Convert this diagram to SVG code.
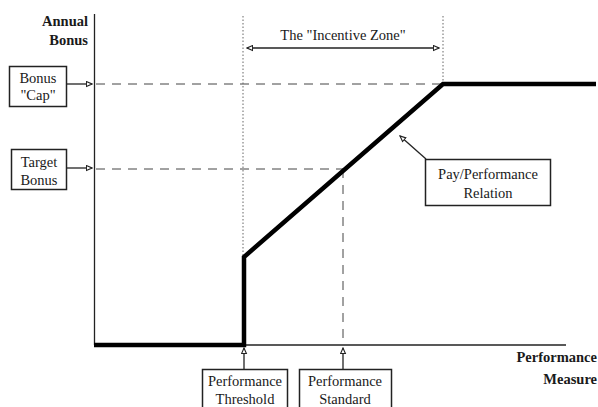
<svg xmlns="http://www.w3.org/2000/svg" width="598" height="407" viewBox="0 0 598 407" font-family="'Liberation Serif', 'Times New Roman', 'DejaVu Serif', serif">
<style>
text{font-family:'Liberation Serif','Times New Roman','DejaVu Serif',serif;font-size:14.5px;fill:#1a1a1a}
.b{font-weight:bold}
.box{fill:#fff;stroke:#222;stroke-width:1.5}
.ln{stroke:#222;stroke-width:1.3;fill:none}
.dash{stroke:#444;stroke-width:1;stroke-dasharray:9,7;fill:none}
.dot{stroke:#666;stroke-width:1;stroke-dasharray:1.5,2;fill:none}
.thick{stroke:#000;stroke-width:4.5;fill:none;stroke-linejoin:miter}
</style>
<defs>
<marker id="ah" viewBox="0 0 10 10" refX="9" refY="5" markerWidth="7" markerHeight="7" orient="auto-start-reverse" markerUnits="userSpaceOnUse">
<path d="M1,1.5 L9,5 L1,8.5 Z" fill="#fff" stroke="#222" stroke-width="1.6"/>
</marker>
</defs>
<g id="axes">
<line class="ln" x1="94.5" y1="14" x2="94.5" y2="345" stroke-width="1.8"/>
<line class="ln" x1="94" y1="345" x2="566" y2="345"/>
<text class="b" x="88" y="26" text-anchor="end">Annual</text>
<text class="b" x="88" y="45" text-anchor="end">Bonus</text>
<text class="b" x="597" y="362" text-anchor="end">Performance</text>
<text class="b" x="597" y="384" text-anchor="end">Measure</text>
</g>
<g id="guides">
<line class="dash" x1="96" y1="84" x2="443" y2="84"/>
<line class="dash" x1="96" y1="169" x2="343" y2="169"/>
<line class="dash" x1="343" y1="169" x2="343" y2="345"/>
<line class="dot" x1="243" y1="16" x2="243" y2="258"/>
<line class="dot" x1="443" y1="16" x2="443" y2="84"/>
</g>
<g id="curve">
<polyline class="thick" points="94,345 244,345 244,257 443,84 596,84"/>
</g>
<g id="incentive-zone">
<line class="ln" x1="247" y1="48" x2="439" y2="48" marker-start="url(#ah)" marker-end="url(#ah)"/>
<text x="343" y="40" text-anchor="middle">The "Incentive Zone"</text>
</g>
<g id="connectors">
<line class="ln" x1="67" y1="84" x2="92" y2="84" marker-end="url(#ah)" stroke-width="1.6"/>
<line class="ln" x1="67" y1="168" x2="92" y2="168" marker-end="url(#ah)" stroke-width="1.6"/>
<line class="ln" x1="244" y1="369" x2="244" y2="348" marker-end="url(#ah)" stroke-width="1.6"/>
<line class="ln" x1="343" y1="369" x2="343" y2="348" marker-end="url(#ah)" stroke-width="1.6"/>
<line class="ln" x1="426" y1="159" x2="400" y2="136" marker-end="url(#ah)" stroke-width="1.6"/>
</g>
<g id="bonus-cap">
<rect class="box" x="9.5" y="66.5" width="57" height="40"/>
<text x="38" y="83" text-anchor="middle">Bonus</text>
<text x="38" y="100" text-anchor="middle">"Cap"</text>
</g>
<g id="target-bonus">
<rect class="box" x="11.5" y="149.5" width="55" height="40"/>
<text x="39" y="167" text-anchor="middle">Target</text>
<text x="39" y="185" text-anchor="middle">Bonus</text>
</g>
<g id="pay-performance">
<rect class="box" x="425.5" y="159.5" width="125" height="46"/>
<text x="488" y="179" text-anchor="middle">Pay/Performance</text>
<text x="488" y="198" text-anchor="middle">Relation</text>
</g>
<g id="threshold">
<rect class="box" x="202.5" y="369.5" width="85" height="45"/>
<text x="245" y="386" text-anchor="middle">Performance</text>
<text x="245" y="404" text-anchor="middle">Threshold</text>
</g>
<g id="standard">
<rect class="box" x="299.5" y="369.5" width="92" height="45"/>
<text x="345" y="386" text-anchor="middle">Performance</text>
<text x="345" y="404" text-anchor="middle">Standard</text>
</g>
</svg>
